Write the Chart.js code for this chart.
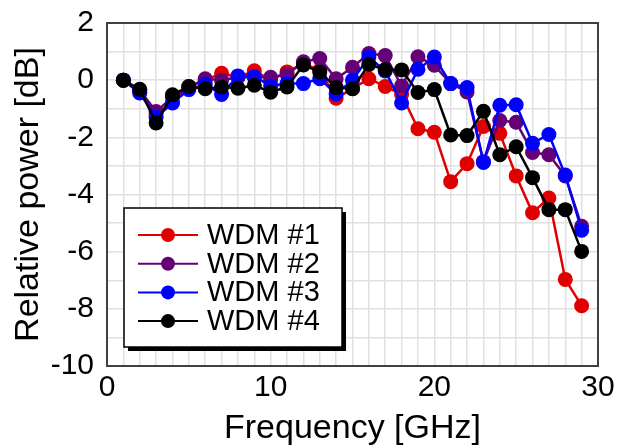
<!DOCTYPE html>
<html>
<head>
<meta charset="utf-8">
<script src="https://cdn.jsdelivr.net/npm/chart.js@4.4.1/dist/chart.umd.min.js"></script>
<style>
  html, body { margin: 0; padding: 0; background: #fff; }
  #wrap { width: 618px; height: 447px; }
</style>
</head>
<body>
<div id="wrap"><canvas id="myChart" width="618" height="447"></canvas></div>
<script>
// frequency in GHz
const freq = [1,2,3,4,5,6,7,8,9,10,11,12,13,14,15,16,17,18,19,20,21,22,23,24,25,26,27,28,29];

const wdm1 = [0,-0.42,-1.2,-0.77,-0.22,0,0.24,0.1,0.33,0,0.29,0.58,0.35,-0.63,-0.3,0.05,-0.22,-0.5,-1.7,-1.82,-3.55,-2.92,-1.62,-1.86,-3.35,-4.64,-4.12,-6.97,-7.89];
const wdm2 = [0,-0.35,-1.1,-0.6,-0.25,0.05,0,0.1,0.1,0.1,0.2,0.64,0.76,0.05,0.45,0.93,0.86,-0.2,0.82,0.52,-0.12,-0.41,-2.85,-1.41,-1.47,-2.53,-2.61,-3.35,-5.11];
const wdm3 = [0,-0.45,-1.3,-0.8,-0.33,-0.15,-0.5,0.15,0.13,-0.2,-0.12,-0.12,0.05,-0.48,0,0.81,0.32,-0.8,0.38,0.81,-0.12,-0.26,-2.88,-0.88,-0.86,-2.21,-1.9,-3.32,-5.25];
const wdm4 = [0,-0.32,-1.5,-0.51,-0.22,-0.3,-0.24,-0.28,-0.18,-0.42,-0.24,0.53,0.29,-0.26,-0.3,0.55,0.37,0.36,-0.43,-0.33,-1.92,-1.94,-1.09,-2.61,-2.33,-3.41,-4.53,-4.53,-5.99];

const names = ['WDM #1','WDM #2','WDM #3','WDM #4'];
const colors = ['#e00000','#660077','#0000ff','#000000'];
const series = [wdm1, wdm2, wdm3, wdm4];

const FONT = "'Liberation Sans', Arial, sans-serif";

function toPoints(arr){
    let pts = [];
    arr.forEach((v, i) => {
        pts.push({x: freq[i], y: v});
    });
    return pts;
}

// frame round the plot area and the boxed legend with shadow
const framePlugin = {
    id: 'frame',
    afterDraw(chart){
        const ctx = chart.ctx;
        const a = chart.chartArea;
        ctx.save();
        ctx.strokeStyle = '#404040';
        ctx.lineWidth = 2;
        ctx.strokeRect(a.left, a.top, a.right - a.left, a.bottom - a.top);

        // legend box
        const bx = 124, by = 208, bw = 218, bh = 139;
        ctx.fillStyle = '#000';
        ctx.fillRect(bx + 4, by + 4, bw, bh);
        ctx.fillStyle = '#fff';
        ctx.fillRect(bx, by, bw, bh);
        ctx.strokeStyle = '#000';
        ctx.lineWidth = 1.5;
        ctx.strokeRect(bx, by, bw, bh);

        ctx.font = '29px ' + FONT;
        ctx.textBaseline = 'middle';
        ctx.textAlign = 'left';
        names.forEach((n, i) => {
            const y = 235 + i * 28.7;
            ctx.strokeStyle = colors[i];
            ctx.lineWidth = 2;
            ctx.beginPath();
            ctx.moveTo(138, y);
            ctx.lineTo(198, y);
            ctx.stroke();
            ctx.fillStyle = colors[i];
            ctx.beginPath();
            ctx.arc(168, y, 7, 0, Math.PI * 2);
            ctx.fill();
            ctx.fillStyle = '#000';
            ctx.fillText(n, 207, y + 1);
        });
        ctx.restore();
    }
};

const ctx = document.getElementById('myChart');

new Chart(ctx, {
    type: 'line',
    data: {
        datasets: series.map((s, i) => ({
            label: names[i],
            data: toPoints(s),
            borderColor: colors[i],
            backgroundColor: colors[i],
            borderWidth: 2.5,
            pointRadius: 7.5,
            pointHoverRadius: 7.5,
            pointBorderWidth: 0,
            order: 4 - i,
            tension: 0
        }))
    },
    options: {
        responsive: false,
        animation: false,
        events: [],
        layout: { padding: { top: 23, right: 20, left: 0, bottom: 0 } },
        plugins: {
            legend: { display: false },
            tooltip: { enabled: false }
        },
        scales: {
            x: {
                type: 'linear',
                min: 0,
                max: 30,
                afterFit: (s) => { s.height = 81; s.paddingLeft = 0; s.paddingRight = 0; },
                grid: { color: '#e0e0e0', lineWidth: 1.5, drawTicks: false },
                border: { display: false },
                ticks: {
                    stepSize: 1,
                    autoSkip: false,
                    maxRotation: 0,
                    padding: 4,
                    color: '#000',
                    font: { family: FONT, size: 30 },
                    callback: (v) => (v % 10 === 0 ? v : '')
                },
                title: {
                    display: true,
                    text: 'Frequency [GHz]',
                    color: '#000',
                    font: { family: FONT, size: 34 },
                    padding: { top: 0, bottom: -2 }
                }
            },
            y: {
                min: -10,
                max: 2,
                afterFit: (s) => { s.width = 107; s.paddingTop = 0; s.paddingBottom = 0; },
                grid: { color: '#e0e0e0', lineWidth: 1.5, drawTicks: false },
                border: { display: false },
                ticks: {
                    stepSize: 1,
                    autoSkip: false,
                    padding: 13,
                    color: '#000',
                    font: { family: FONT, size: 30 },
                    callback: (v) => (v % 2 === 0 ? v : '')
                },
                title: {
                    display: true,
                    text: 'Relative power [dB]',
                    color: '#000',
                    font: { family: FONT, size: 34 },
                    padding: { top: 8, bottom: 0 }
                }
            }
        }
    },
    plugins: [framePlugin]
});
</script>
</body>
</html>
